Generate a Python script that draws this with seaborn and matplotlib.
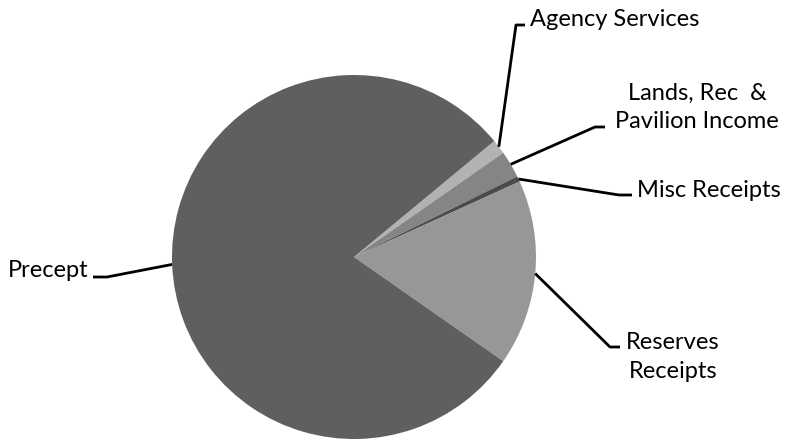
import numpy as np
import matplotlib
matplotlib.use("Agg")
import matplotlib.pyplot as plt
import seaborn as sns

# income share (percent), in clockwise order
categories = ["Agency Services", "Lands, Rec  &\nPavilion Income", "Misc Receipts",
              "Reserves\nReceipts", "Precept"]
shares = [1.3, 2.4, 0.5, 16.5, 79.3]
colors = ["#b2b2b2", "#858585", "#4b4b4b", "#979797", "#5f5f5f"]

sns.set_theme(style="white")
plt.rcParams["font.family"] = ["Lato", "DejaVu Sans"]

W, H = 795, 441
fig = plt.figure(figsize=(W / 100, H / 100), dpi=100)
ax = fig.add_axes([0, 0, 1, 1])

cx, cy, r = 354, H - 257, 182
wedges, _ = ax.pie(shares, colors=colors, startangle=39.6, counterclock=False,
                   center=(cx, cy), radius=r, wedgeprops=dict(linewidth=0))

# label layout in image pixels: elbow point, end of short horizontal, text pos, alignment
layout = [
    ((516, 25), (525, 25), (530, 26), "left"),
    ((595, 127), (605, 127), (697, 128), "center"),
    ((619, 195), (632, 195), (637, 197), "left"),
    ((610, 347), (620, 347), (673, 378), "center"),
    ((107, 277), (93, 277), (88, 277), "right"),
]

for w, lab, (elb, end, tpos, ha) in zip(wedges, categories, layout):
    mid = np.deg2rad((w.theta1 + w.theta2) / 2)
    ax0 = cx + r * np.cos(mid)
    ay0 = cy + r * np.sin(mid)
    ax.plot([ax0, elb[0], end[0]], [ay0, H - elb[1], H - end[1]],
            color="black", lw=2, solid_capstyle="butt")
    ax.text(tpos[0], H - tpos[1], lab, ha=ha, va="baseline", multialignment="center",
            fontsize=17, color="black", linespacing=1.45)

ax.set_xlim(0, W)
ax.set_ylim(0, H)
ax.set_aspect("auto")
ax.axis("off")

fig.savefig("out.png", dpi=100, facecolor="white")
